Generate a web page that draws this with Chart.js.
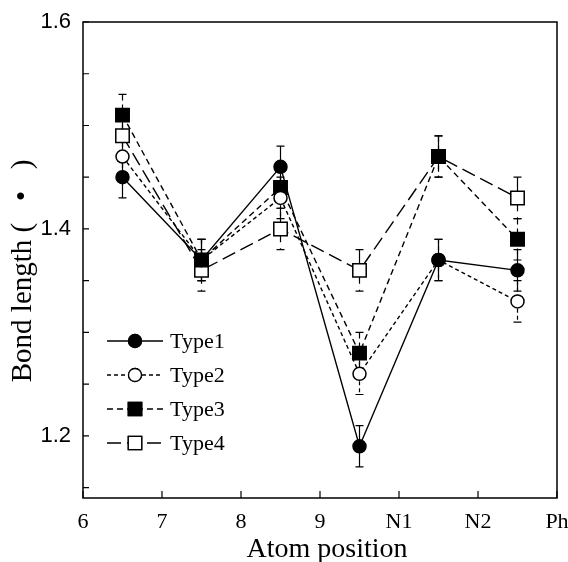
<!DOCTYPE html>
<html>
<head>
<meta charset="utf-8">
<script src="https://cdn.jsdelivr.net/npm/chart.js@4.4.0/dist/chart.umd.min.js"></script>
<style>
html, body { margin: 0; padding: 0; background: #fff; }
#wrap { width: 568px; height: 562px; }
</style>
</head>
<body>
<div id="wrap"><canvas id="bonds" width="568" height="562"></canvas></div>
<script>
// atom positions (bond centres) and axis labels
const positions = [6.5, 7.5, 8.5, 9.5, 10.5, 11.5];
const xTickValues = [6, 7, 8, 9, 10, 11, 12];
const xTickLabels = ['6', '7', '8', '9', 'N1', 'N2', 'Ph'];
const yTickValues = [1.15, 1.2, 1.25, 1.3, 1.35, 1.4, 1.45, 1.5, 1.55, 1.6];
const yLabelled = [1.2, 1.4, 1.6];

// bond lengths per type, with error bars
const type1 = [1.45, 1.37, 1.46, 1.19, 1.37, 1.36];
const type2 = [1.47, 1.37, 1.43, 1.26, 1.37, 1.33];
const type3 = [1.51, 1.37, 1.44, 1.28, 1.47, 1.39];
const type4 = [1.49, 1.36, 1.40, 1.36, 1.47, 1.43];
const type1Err = [0.02, 0.02, 0.02, 0.02, 0.02, 0.02];
const type2Err = [0.02, 0.02, 0.02, 0.02, 0.02, 0.02];
const type3Err = [0.02, 0.02, 0.02, 0.02, 0.02, 0.02];
const type4Err = [0.02, 0.02, 0.02, 0.02, 0.02, 0.02];

const series = [
    {label: 'Type1', values: type1, err: type1Err, dash: [], style: 'circle', fill: '#000', radius: 6.5},
    {label: 'Type2', values: type2, err: type2Err, dash: [4, 3], style: 'circle', fill: '#fff', radius: 6.5},
    {label: 'Type3', values: type3, err: type3Err, dash: [6, 4], style: 'rect', fill: '#000', radius: 9.5},
    {label: 'Type4', values: type4, err: type4Err, dash: [14, 6], style: 'rect', fill: '#fff', radius: 9.5}
];

const serif = 'Liberation Serif';

// frame, inward ticks, error bars and the inset legend
const extras = {
    id: 'extras',
    beforeDatasetsDraw(chart) {
        const ctx = chart.ctx;
        const x = chart.scales.x, y = chart.scales.y;
        ctx.save();
        ctx.strokeStyle = '#000';
        ctx.lineWidth = 1.2;
        chart.data.datasets.forEach((ds, i) => {
            const s = series[i];
            ctx.setLineDash(s.dash);
            ds.data.forEach((p, j) => {
                const px = x.getPixelForValue(p.x);
                const top = y.getPixelForValue(p.y + s.err[j]);
                const bot = y.getPixelForValue(p.y - s.err[j]);
                ctx.beginPath();
                ctx.moveTo(px, top); ctx.lineTo(px, bot);
                ctx.stroke();
                ctx.setLineDash([]);
                ctx.beginPath();
                ctx.moveTo(px - 4, top); ctx.lineTo(px + 4, top);
                ctx.moveTo(px - 4, bot); ctx.lineTo(px + 4, bot);
                ctx.stroke();
                ctx.setLineDash(s.dash);
            });
        });
        ctx.restore();
    },
    afterDraw(chart) {
        const ctx = chart.ctx;
        const a = chart.chartArea;
        const x = chart.scales.x, y = chart.scales.y;
        ctx.save();
        ctx.strokeStyle = '#000';
        ctx.lineWidth = 1.5;
        ctx.strokeRect(a.left, a.top, a.right - a.left, a.bottom - a.top);
        ctx.lineWidth = 1.2;
        ctx.beginPath();
        yTickValues.forEach(v => {
            const py = y.getPixelForValue(v);
            ctx.moveTo(a.left, py); ctx.lineTo(a.left + 6, py);
        });
        xTickValues.forEach(v => {
            const px = x.getPixelForValue(v);
            ctx.moveTo(px, a.bottom); ctx.lineTo(px, a.bottom - 7);
        });
        ctx.stroke();

        // legend
        const lx = a.left + 24, ly = a.top + 319, gap = 34;
        series.forEach((s, i) => {
            const cy = ly + i * gap;
            ctx.setLineDash(s.dash);
            ctx.lineWidth = 1.3;
            ctx.beginPath();
            ctx.moveTo(lx, cy); ctx.lineTo(lx + 56, cy);
            ctx.stroke();
            ctx.setLineDash([]);
            Chart.helpers.drawPoint(ctx, {
                pointStyle: s.style, radius: s.radius, borderWidth: 1.5
            }, lx + 28, cy);
            ctx.fillStyle = s.fill;
            ctx.fill();
            ctx.stroke();
            ctx.fillStyle = '#000';
            ctx.font = '22px "' + serif + '"';
            ctx.textBaseline = 'middle';
            ctx.fillText(s.label, lx + 63, cy + 1);
        });
        ctx.restore();
    }
};

new Chart(document.getElementById('bonds').getContext('2d'), {
    type: 'line',
    data: {
        datasets: series.map(s => ({
            label: s.label,
            data: positions.map((p, j) => ({x: p, y: s.values[j]})),
            borderColor: '#000',
            borderWidth: 1.4,
            borderDash: s.dash,
            pointStyle: s.style,
            pointRadius: s.radius,
            pointBackgroundColor: s.fill,
            pointBorderColor: '#000',
            pointBorderWidth: 1.5,
            tension: 0
        }))
    },
    options: {
        responsive: false,
        animation: false,
        events: [],
        layout: {padding: {top: 22, right: 4, left: 0, bottom: 0}},
        scales: {
            x: {
                type: 'linear',
                min: 6,
                max: 12,
                afterBuildTicks: s => { s.ticks = xTickValues.map(v => ({value: v})); },
                afterFit: s => { s.height = 64; s.paddingLeft = 0; s.paddingRight = 0; },
                grid: {display: false},
                border: {display: false},
                ticks: {
                    color: '#000',
                    font: {family: serif, size: 22},
                    padding: 3,
                    maxRotation: 0,
                    callback: (v, i) => xTickLabels[i]
                },
                title: {
                    display: true,
                    text: '  Atom position',
                    color: '#000',
                    font: {family: serif, size: 28, lineHeight: 0.9},
                    padding: {top: 0, bottom: 0}
                }
            },
            y: {
                min: 1.14,
                max: 1.6,
                afterBuildTicks: s => { s.ticks = yTickValues.map(v => ({value: v})); },
                afterFit: s => { s.width = 83; s.paddingTop = 0; s.paddingBottom = 0; },
                grid: {display: false},
                border: {display: false},
                ticks: {
                    color: '#000',
                    font: {family: 'Liberation Sans', size: 22},
                    padding: 4,
                    autoSkip: false,
                    callback: v => yLabelled.includes(v) ? v.toFixed(1) : ''
                },
                title: {
                    display: true,
                    text: 'Bond length ( \u2002\u2022\u2002 )   ',
                    color: '#000',
                    font: {family: serif, size: 29, lineHeight: 1},
                    padding: {top: 9, bottom: 0}
                }
            }
        },
        plugins: {
            legend: {display: false},
            tooltip: {enabled: false}
        }
    },
    plugins: [extras]
});
</script>
</body>
</html>
